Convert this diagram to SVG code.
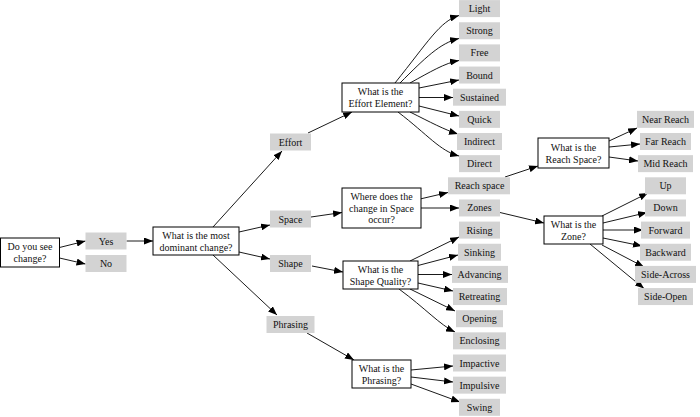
<svg xmlns="http://www.w3.org/2000/svg" width="700" height="417" viewBox="0 0 700 417">
<style>
text{font-family:"Liberation Serif","Times New Roman",serif;font-size:10px;fill:#111;text-anchor:middle}
.leaf{fill:#d3d3d3;stroke:none}
.q{fill:#fff;stroke:#000;stroke-width:1}
.e{fill:none;stroke:#000;stroke-width:0.9;marker-end:url(#ah)}
</style>
<defs>
<marker id="ah" markerUnits="userSpaceOnUse" markerWidth="9" markerHeight="7" refX="9" refY="3.5" orient="auto">
<path d="M0,0 L9,3.5 L0,7 z" fill="#000"/>
</marker>
</defs>
<g id="connectors">
<path class="e" d="M59.5,247.5 L85.5,241"/>
<path class="e" d="M59.5,258 L85.5,264"/>
<path class="e" d="M126.5,241 L153,241"/>
<path class="e" d="M213,227 L282,151"/>
<path class="e" d="M239,232 L270,225"/>
<path class="e" d="M239,252 L270,259"/>
<path class="e" d="M213,255 L277,315"/>
<path class="e" d="M308,133 L352,112"/>
<path class="e" d="M395,83 C428,42 440,21 459,15.5"/>
<path class="e" d="M400,83 C425,58 440,43 459,38.5"/>
<path class="e" d="M410,83 C430,72 445,63 459,60.5"/>
<path class="e" d="M419,88 L459,80"/>
<path class="e" d="M419,97.5 L453,97.5"/>
<path class="e" d="M419,106 L459,116"/>
<path class="e" d="M410,112 C430,122 445,130 458,134"/>
<path class="e" d="M398,112 C428,135 440,151 459,156"/>
<path class="e" d="M311,217 L342,212.5"/>
<path class="e" d="M420,199 L448,192.5"/>
<path class="e" d="M421,208 L459,208"/>
<path class="e" d="M505,177 L538,166"/>
<path class="e" d="M609,141 L637,128"/>
<path class="e" d="M609,147 L640,144"/>
<path class="e" d="M609,157 L638,161"/>
<path class="e" d="M500,212.5 L544,223"/>
<path class="e" d="M602,216 L648,193"/>
<path class="e" d="M603,223 L647,212.5"/>
<path class="e" d="M603,230 L643,230"/>
<path class="e" d="M603,238 L642,246"/>
<path class="e" d="M602,245 L644,267"/>
<path class="e" d="M590,244 L644,288.5"/>
<path class="e" d="M312,266 L343,272"/>
<path class="e" d="M410,261 L459,237"/>
<path class="e" d="M418,265.5 L458,255"/>
<path class="e" d="M418,274.5 L452,274.5"/>
<path class="e" d="M418,283 L453,291"/>
<path class="e" d="M410,289 L455,311"/>
<path class="e" d="M399,289 C425,308 440,325 455,332"/>
<path class="e" d="M307,333 L354,360"/>
<path class="e" d="M411,370 L453,366"/>
<path class="e" d="M411,377 L453,382"/>
<path class="e" d="M411,384 L460,402"/>
</g>
<g id="n-doyou"><rect class="q" x="0.5" y="238" width="59" height="29"/><text x="30" y="250">Do you see</text><text x="30" y="262">change?</text></g>
<g id="n-yes"><rect class="leaf" x="85.5" y="232.5" width="41" height="17"/><text x="106" y="244.5">Yes</text></g>
<g id="n-no"><rect class="leaf" x="85.5" y="255" width="41" height="17"/><text x="106" y="267">No</text></g>
<g id="n-main"><rect class="q" x="153" y="227" width="86" height="28"/><text x="196" y="238.5">What is the most</text><text x="196" y="250.5">dominant change?</text></g>
<g id="n-effort"><rect class="leaf" x="270" y="133.5" width="41" height="17"/><text x="290.5" y="145.5">Effort</text></g>
<g id="n-space"><rect class="leaf" x="270" y="210.5" width="41" height="17"/><text x="290.5" y="222.5">Space</text></g>
<g id="n-shape"><rect class="leaf" x="270" y="255" width="41" height="17"/><text x="290.5" y="267">Shape</text></g>
<g id="n-phrasing"><rect class="leaf" x="266.5" y="316" width="48" height="17"/><text x="290.5" y="328">Phrasing</text></g>
<g id="n-effortq"><rect class="q" x="342" y="83" width="77" height="29"/><text x="380.5" y="95">What is the</text><text x="380.5" y="107">Effort Element?</text></g>
<g id="n-spaceq"><rect class="q" x="342" y="188" width="79" height="40"/><text x="381.5" y="200">Where does the</text><text x="381.5" y="211.5">change in Space</text><text x="381.5" y="223">occur?</text></g>
<g id="n-shapeq"><rect class="q" x="343" y="261" width="75" height="28"/><text x="380.5" y="272.5">What is the</text><text x="380.5" y="284.5">Shape Quality?</text></g>
<g id="n-phrasingq"><rect class="q" x="352" y="360" width="59" height="28"/><text x="381.5" y="371.5">What is the</text><text x="381.5" y="383.5">Phrasing?</text></g>
<g id="n-reachq"><rect class="q" x="538" y="138" width="71" height="30"/><text x="573.5" y="150.5">What is the</text><text x="573.5" y="162.5">Reach Space?</text></g>
<g id="n-zoneq"><rect class="q" x="544" y="216" width="59" height="28"/><text x="573.5" y="227.5">What is the</text><text x="573.5" y="239.5">Zone?</text></g>
<g id="n-light"><rect class="leaf" x="459" y="0.1" width="41" height="17"/><text x="479.5" y="12.1">Light</text></g>
<g id="n-strong"><rect class="leaf" x="459" y="22.25" width="41" height="17"/><text x="479.5" y="34.25">Strong</text></g>
<g id="n-free"><rect class="leaf" x="459" y="44.4" width="41" height="17"/><text x="479.5" y="56.4">Free</text></g>
<g id="n-bound"><rect class="leaf" x="459" y="66.55" width="41" height="17"/><text x="479.5" y="78.55">Bound</text></g>
<g id="n-sustained"><rect class="leaf" x="453" y="88.7" width="53" height="17"/><text x="479.5" y="100.7">Sustained</text></g>
<g id="n-quick"><rect class="leaf" x="459" y="110.85" width="41" height="17"/><text x="479.5" y="122.85">Quick</text></g>
<g id="n-indirect"><rect class="leaf" x="457" y="133" width="45" height="17"/><text x="479.5" y="145">Indirect</text></g>
<g id="n-direct"><rect class="leaf" x="459" y="155.15" width="41" height="17"/><text x="479.5" y="167.15">Direct</text></g>
<g id="n-reachspace"><rect class="leaf" x="448" y="177.3" width="62" height="17"/><text x="479.5" y="189.3">Reach space</text></g>
<g id="n-zones"><rect class="leaf" x="459" y="199.45" width="41" height="17"/><text x="479.5" y="211.45">Zones</text></g>
<g id="n-rising"><rect class="leaf" x="459" y="221.6" width="41" height="17"/><text x="479.5" y="233.6">Rising</text></g>
<g id="n-sinking"><rect class="leaf" x="458" y="243.75" width="43" height="17"/><text x="479.5" y="255.75">Sinking</text></g>
<g id="n-advancing"><rect class="leaf" x="452" y="265.9" width="56" height="17"/><text x="479.5" y="277.9">Advancing</text></g>
<g id="n-retreating"><rect class="leaf" x="453" y="288.05" width="54" height="17"/><text x="479.5" y="300.05">Retreating</text></g>
<g id="n-opening"><rect class="leaf" x="456" y="310.2" width="47" height="17"/><text x="479.5" y="322.2">Opening</text></g>
<g id="n-enclosing"><rect class="leaf" x="453" y="332.35" width="53" height="17"/><text x="479.5" y="344.35">Enclosing</text></g>
<g id="n-impactive"><rect class="leaf" x="453" y="354.5" width="53" height="17"/><text x="479.5" y="366.5">Impactive</text></g>
<g id="n-impulsive"><rect class="leaf" x="453" y="376.65" width="53" height="17"/><text x="479.5" y="388.65">Impulsive</text></g>
<g id="n-swing"><rect class="leaf" x="459" y="398.8" width="41" height="17"/><text x="479.5" y="410.8">Swing</text></g>
<g id="n-nearreach"><rect class="leaf" x="637" y="110.85" width="57" height="17"/><text x="665.5" y="122.85">Near Reach</text></g>
<g id="n-farreach"><rect class="leaf" x="640" y="133" width="51" height="17"/><text x="665.5" y="145">Far Reach</text></g>
<g id="n-midreach"><rect class="leaf" x="638" y="155.15" width="55" height="17"/><text x="665.5" y="167.15">Mid Reach</text></g>
<g id="n-up"><rect class="leaf" x="645" y="177.3" width="41" height="17"/><text x="665.5" y="189.3">Up</text></g>
<g id="n-down"><rect class="leaf" x="645" y="199.45" width="41" height="17"/><text x="665.5" y="211.45">Down</text></g>
<g id="n-forward"><rect class="leaf" x="641" y="221.6" width="49" height="17"/><text x="665.5" y="233.6">Forward</text></g>
<g id="n-backward"><rect class="leaf" x="640" y="243.75" width="51" height="17"/><text x="665.5" y="255.75">Backward</text></g>
<g id="n-sideacross"><rect class="leaf" x="635" y="265.9" width="61" height="17"/><text x="665.5" y="277.9">Side-Across</text></g>
<g id="n-sideopen"><rect class="leaf" x="638" y="288.05" width="55" height="17"/><text x="665.5" y="300.05">Side-Open</text></g>
</svg>
